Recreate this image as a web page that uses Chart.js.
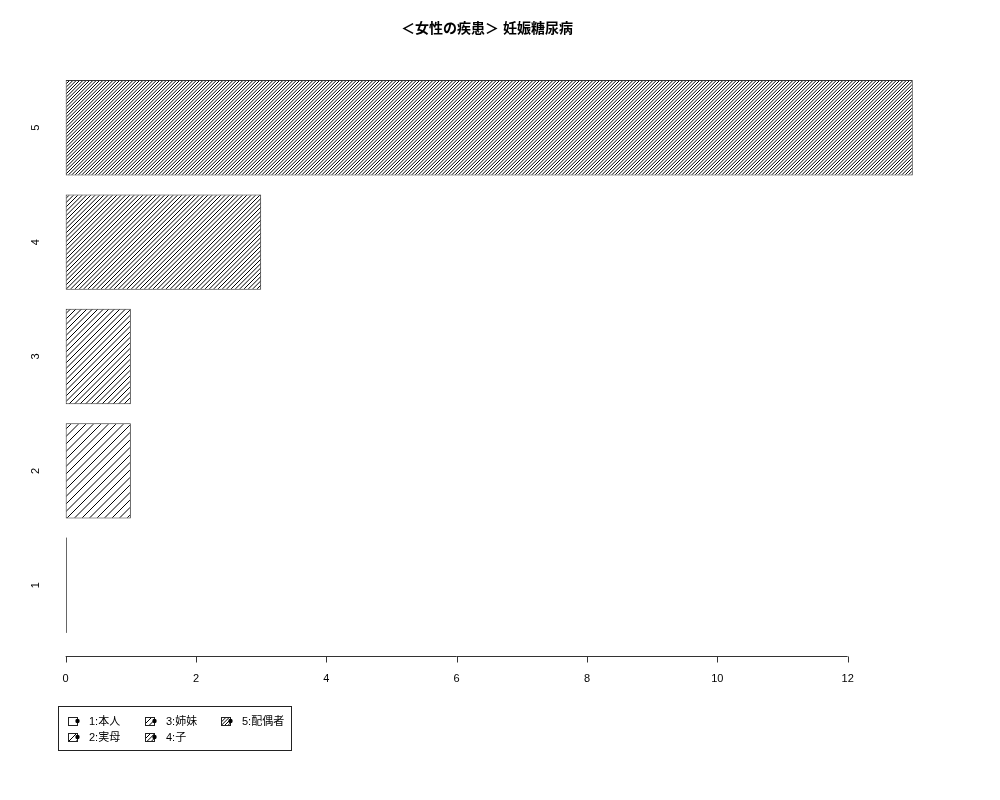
<!DOCTYPE html>
<html>
<head>
<meta charset="utf-8">
<script src="https://cdn.jsdelivr.net/npm/chart.js@4"></script>
<style>
  html, body { margin: 0; padding: 0; background: #fff; }
  #wrap { width: 1000px; height: 800px; position: relative; }
</style>
</head>
<body>
<div id="wrap"><canvas id="c"></canvas></div>
<script>
// ---- data ----
const categories = ['1', '2', '3', '4', '5'];
const positions = [1, 2, 3, 4, 5];
const values = [0, 1, 1, 3, 13];
const xTicks = [0, 2, 4, 6, 8, 10, 12];
const legendLabels = ['1:本人', '2:実母', '3:姉妹', '4:子', '5:配偶者'];
const titleText = '＜女性の疾患＞ 妊娠糖尿病';

// ---- styles ----
const hatchSpacing = [0, 7.5, 5.5, 4.33, 3.33];
const FONT = '"Liberation Sans", "Noto Sans CJK JP", sans-serif';
const LINE = '#333';

function makeHatch(spacing) {
  if (!spacing) return '#ffffff';
  let k = 1;
  while (Math.abs(spacing * k - Math.round(spacing * k)) > 0.05 && k < 6) k++;
  const N = Math.round(spacing * k);
  const cv = document.createElement('canvas');
  cv.width = N; cv.height = N;
  const g = cv.getContext('2d');
  g.fillStyle = '#fff';
  g.fillRect(0, 0, N, N);
  g.strokeStyle = '#000';
  g.lineWidth = 1;
  for (let m = 0; m <= 2 * k; m++) {
    const c = m * N / k;
    g.beginPath();
    g.moveTo(c + 2, -2);
    g.lineTo(-2, c + 2);
    g.stroke();
  }
  const ctx = document.getElementById('c').getContext('2d');
  return ctx.createPattern(cv, 'repeat');
}
const patterns = hatchSpacing.map(makeHatch);

const decor = {
  id: 'decor',
  beforeDraw(chart) {
    const ctx = chart.ctx;
    ctx.save();
    ctx.fillStyle = '#fff';
    ctx.fillRect(0, 0, chart.width, chart.height);
    ctx.restore();
  },
  afterDatasetsDraw(chart) {
    const ctx = chart.ctx;
    const meta = chart.getDatasetMeta(0);
    ctx.save();
    ctx.strokeStyle = '#666';
    ctx.lineWidth = 1;
    meta.data.forEach((el, i) => {
      if (values[i] === 0) {
        const p = el.getProps(['x', 'y', 'height'], true);
        ctx.beginPath();
        ctx.moveTo(Math.round(p.x) + 0.5, p.y - p.height / 2);
        ctx.lineTo(Math.round(p.x) + 0.5, p.y + p.height / 2);
        ctx.stroke();
      }
    });
    ctx.restore();
  },
  afterDraw(chart) {
    const ctx = chart.ctx;
    const xs = chart.scales.x, ys = chart.scales.y;
    const area = chart.chartArea;
    ctx.save();
    // title
    ctx.fillStyle = '#000';
    ctx.font = 'bold 14px ' + FONT;
    ctx.textAlign = 'center';
    ctx.textBaseline = 'middle';
    ctx.fillText(titleText, (area.left + area.right) / 2 + 2, 29);

    // x axis
    const ay = Math.round(area.bottom) + 1.5;
    ctx.strokeStyle = LINE;
    ctx.lineWidth = 1;
    ctx.beginPath();
    ctx.moveTo(xs.getPixelForValue(xTicks[0]), ay);
    ctx.lineTo(xs.getPixelForValue(xTicks[xTicks.length - 1]), ay);
    xTicks.forEach(v => {
      const px = Math.round(xs.getPixelForValue(v)) + 0.5;
      ctx.moveTo(px, ay);
      ctx.lineTo(px, ay + 6);
    });
    ctx.stroke();
    ctx.font = '11px ' + FONT;
    ctx.fillStyle = '#000';
    xTicks.forEach(v => {
      ctx.fillText(String(v), xs.getPixelForValue(v), ay + 22);
    });

    // y labels
    positions.forEach((p, i) => {
      ctx.save();
      ctx.translate(area.left + 13, ys.getPixelForValue(p));
      ctx.rotate(-Math.PI / 2);
      ctx.textAlign = 'center';
      ctx.textBaseline = 'middle';
      ctx.fillText(categories[i], 0, 0);
      ctx.restore();
    });

    // legend
    const lx = 58, ly = 706, lw = 233, lh = 44;
    ctx.strokeStyle = '#222';
    ctx.strokeRect(lx + 0.5, ly + 0.5, lw, lh);
    const colX = [68, 145, 221];
    const rowY = [721, 737];
    ctx.font = '11px ' + FONT;
    ctx.textAlign = 'left';
    ctx.textBaseline = 'middle';
    legendLabels.forEach((lab, i) => {
      const c = Math.floor(i / 2), r = i % 2;
      const bx = colX[c], by = rowY[r];
      ctx.fillStyle = patterns[i];
      ctx.fillRect(bx, by - 4, 9, 8);
      ctx.strokeStyle = '#222';
      ctx.strokeRect(bx + 0.5, by - 3.5, 9, 8);
      ctx.fillStyle = '#000';
      ctx.beginPath();
      ctx.arc(bx + 9.5, by, 2.2, 0, Math.PI * 2);
      ctx.fill();
      ctx.fillText(lab, bx + 21, by + 0.5);
    });
    ctx.restore();
  }
};

new Chart(document.getElementById('c'), {
  type: 'bar',
  data: {
    datasets: [{
      data: values.map((v, i) => ({ x: v, y: positions[i] })),
      backgroundColor: patterns,
      borderColor: LINE,
      borderWidth: 1,
      borderSkipped: false,
      categoryPercentage: 1,
      barPercentage: 1 / 1.2
    }]
  },
  options: {
    indexAxis: 'y',
    responsive: true,
    maintainAspectRatio: false,
    animation: false,
    devicePixelRatio: 1,
    layout: { padding: { left: 23, right: 53, top: 58, bottom: 145 } },
    plugins: { legend: { display: false }, title: { display: false }, tooltip: { enabled: false } },
    scales: {
      x: { type: 'linear', min: -0.655, max: 13.525, display: false, offset: false },
      y: {
        type: 'linear', min: 0.39, max: 5.61, display: false, offset: false,
        afterBuildTicks: s => { s.ticks = positions.map(v => ({ value: v })); }
      }
    }
  },
  plugins: [decor]
});
</script>
</body>
</html>
